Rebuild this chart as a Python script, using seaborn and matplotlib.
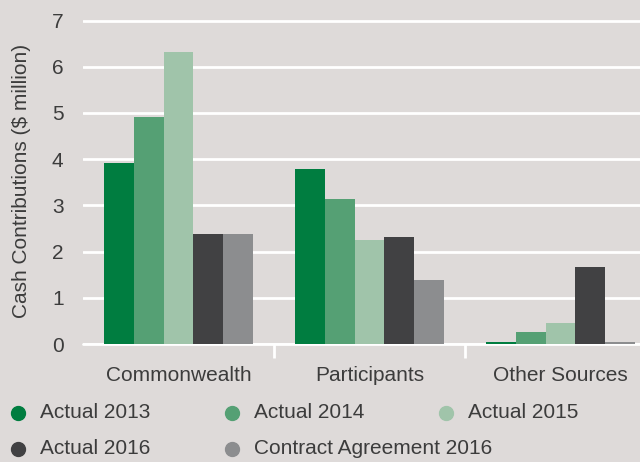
import matplotlib
matplotlib.use("Agg")
import matplotlib.pyplot as plt
from matplotlib.lines import Line2D
import seaborn as sns
import pandas as pd

categories = ["Commonwealth", "Participants", "Other Sources"]
series = ["Actual 2013", "Actual 2014", "Actual 2015", "Actual 2016", "Contract Agreement 2016"]
actual_2013 = [3.92, 3.79, 0.05]
actual_2014 = [4.92, 3.13, 0.25]
actual_2015 = [6.32, 2.25, 0.45]
actual_2016 = [2.39, 2.32, 1.66]
contract_2016 = [2.39, 1.39, 0.05]
colors = ["#007d40", "#55a074", "#a0c4aa", "#414143", "#8c8d8f"]
yticks = [0, 1, 2, 3, 4, 5, 6, 7]

values = [actual_2013, actual_2014, actual_2015, actual_2016, contract_2016]
rows = []
for s, vals in zip(series, values):
    for c, v in zip(categories, vals):
        rows.append({"Category": c, "Series": s, "Value": v})
df = pd.DataFrame(rows)

bg = "#dedad9"
txt = "#3c3c3c"
sns.set_style("white", {"axes.facecolor": bg, "figure.facecolor": bg})
plt.rcParams["font.family"] = ["Liberation Sans", "DejaVu Sans"]

fig = plt.figure(figsize=(6.4, 4.62), dpi=100, facecolor=bg)
ax = fig.add_axes([83 / 640, 1 - 344 / 462, 573 / 640, (344 - 18.2) / 462])
ax.set_facecolor(bg)

sns.barplot(data=df, x="Category", y="Value", hue="Series", order=categories,
            hue_order=series, palette=colors, width=0.775, linewidth=0,
            saturation=1, ax=ax, legend=False, zorder=3)

ax.set_xlim(-0.5, 2.5)
ax.set_ylim(0, 7.05)
ax.set_yticks(yticks)
ax.set_yticklabels([str(t) for t in yticks])
ax.grid(axis="y", color="white", linewidth=2, zorder=0)
ax.set_axisbelow(True)
ax.axhline(0, color="white", linewidth=2, clip_on=False, zorder=2)
for sp in ax.spines.values():
    sp.set_visible(False)

ax.tick_params(axis="y", length=0, pad=14, labelsize=15, labelcolor=txt)
ax.tick_params(axis="x", which="major", length=0, pad=16, labelsize=15, labelcolor=txt)
ax.set_xticks([0.5, 1.5], minor=True)
ax.tick_params(axis="x", which="minor", bottom=True, length=10, width=2,
               color="white", direction="out")
ax.set_xlabel("")
ax.set_ylabel("Cash Contributions ($ million)", fontsize=15, color=txt, labelpad=15)

# legend placed as in the reference
marker_x = [18, 232, 446, 18, 232]
text_x = [40, 254, 468, 40, 254]
row_y = [413, 413, 413, 449, 449]
for s, col, mx, tx, ry in zip(series, colors, marker_x, text_x, row_y):
    fig.add_artist(Line2D([mx / 640], [1 - ry / 462], marker="o", markersize=10,
                          color=col, linestyle="none", transform=fig.transFigure))
    fig.text(tx / 640, 1 - ry / 462, s, fontsize=15, color=txt, va="center", ha="left")

fig.savefig("out.png", dpi=100, facecolor=bg)
